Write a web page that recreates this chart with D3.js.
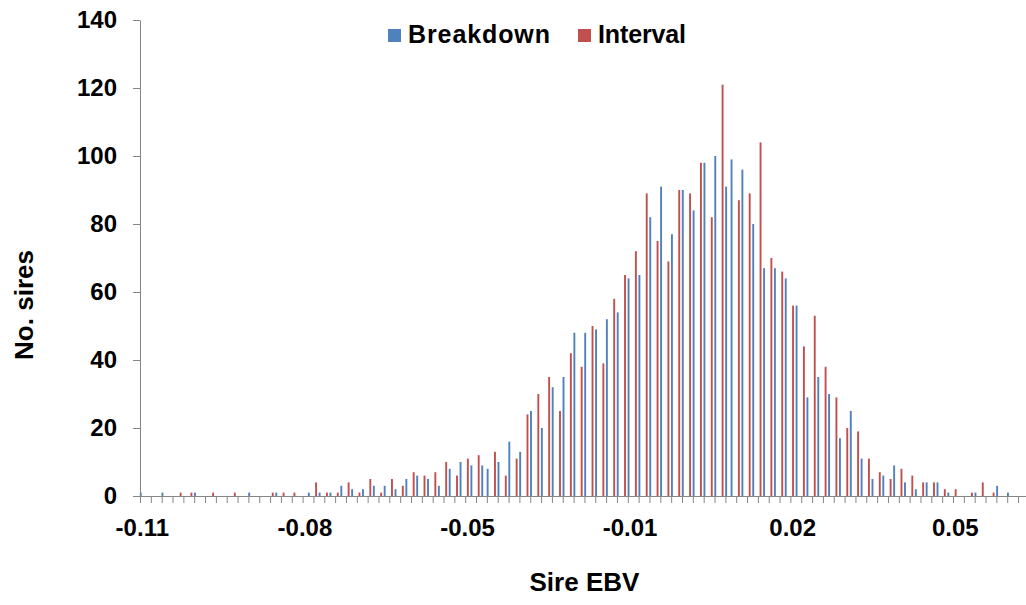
<!DOCTYPE html>
<html><head><meta charset="utf-8">
<script src="https://cdn.jsdelivr.net/npm/d3@7/dist/d3.min.js"></script>
<style>body{margin:0;background:#fff}svg{display:block}</style>
</head><body>
<svg id="chart" width="1026" height="605"></svg>
<script>
// ---- data ----
const seriesNames = ["Breakdown", "Interval"];
const seriesColors = ["#4F81BD", "#C0504D"];
const nCategories = 164;
const categories = d3.range(nCategories);
const breakdown = [
  1,0,0,0,1,0,0,0,0,0,
  1,0,0,0,0,0,0,0,0,0,
  1,0,0,0,0,1,0,0,0,0,
  0,1,0,1,0,1,0,3,0,2,
  0,2,0,3,0,3,0,2,0,5,
  0,6,0,5,0,3,0,8,0,10,
  0,9,0,9,8,0,10,0,16,0,
  13,0,25,0,20,0,32,0,35,0,
  48,0,48,0,49,0,52,0,54,0,
  64,0,65,0,82,0,91,0,77,0,
  90,0,84,0,98,0,100,0,91,99,
  0,96,0,80,0,67,0,67,0,64,
  0,56,0,29,0,35,0,30,0,17,
  0,25,0,11,0,5,0,6,0,9,
  0,4,0,2,0,4,0,4,0,1,
  0,0,0,0,1,0,0,0,3,0,
  1,0,0,0
];
const interval = [
  0,0,0,0,0,0,0,1,0,1,
  0,0,0,1,0,0,0,1,0,0,
  0,0,0,0,1,0,1,0,1,0,
  0,0,4,0,1,0,1,0,4,0,
  1,0,5,0,1,0,5,0,3,0,
  7,0,6,0,7,0,10,0,6,0,
  11,0,12,0,0,13,0,6,0,11,
  0,24,0,30,0,35,0,25,0,42,
  0,38,0,50,0,39,0,58,0,65,
  0,72,0,89,0,75,0,69,0,90,
  0,89,0,98,0,82,0,121,0,0,
  87,0,89,0,104,0,70,0,66,0,
  56,0,44,0,53,0,38,0,29,0,
  20,0,19,0,11,0,7,0,5,0,
  8,0,6,0,4,0,4,0,2,0,
  2,0,0,1,0,4,0,1,0,0,
  0,0,0,0
];
const xTickLabels = ["-0.11", "-0.08", "-0.05", "-0.01", "0.02", "0.05"];
const xLabelEvery = 30;
const yTicks = [0, 20, 40, 60, 80, 100, 120, 140];
const xTitle = "Sire EBV";
const yTitle = "No. sires";

// ---- layout ----
const svg = d3.select("#chart");
const plotLeft = 140, plotTop = 20, plotBottom = 496, catStep = 5.42;
const plotRight = plotLeft + nCategories * catStep;
const font = "'Liberation Sans', Arial, sans-serif";
const axisColor = "#868686";

const x = d3.scaleBand().domain(categories).range([plotLeft - 1, plotRight - 1])
  .paddingInner(0.3).paddingOuter(0.15);
const xs = d3.scaleBand().domain(seriesNames).range([0, x.bandwidth()]);
const xb = d3.scaleLinear().domain([0, nCategories]).range([plotLeft, plotRight]);
const y = d3.scaleLinear().domain([0, 140]).range([plotBottom, plotTop]);

const seriesData = [breakdown, interval];
seriesData.forEach((vals, si) => {
  svg.append("g").selectAll("rect")
    .data(categories.filter(c => vals[c] > 0))
    .join("rect")
    .attr("x", c => x(c) + xs(seriesNames[si]))
    .attr("width", xs.bandwidth())
    .attr("y", c => y(vals[c]))
    .attr("height", c => y(0) - y(vals[c]))
    .attr("fill", seriesColors[si]);
});

// y axis
const gy = svg.append("g").attr("transform", `translate(${plotLeft},0)`)
  .call(d3.axisLeft(y).tickValues(yTicks).tickSize(7).tickSizeOuter(0).tickPadding(16));
gy.select(".domain").attr("stroke", axisColor);
gy.selectAll(".tick line").attr("stroke", axisColor);
gy.selectAll("text").attr("font-family", font).attr("font-size", 24)
  .attr("font-weight", "bold").attr("fill", "#000");

// x axis marks (every 2 categories)
const gx = svg.append("g").attr("transform", `translate(0,${plotBottom})`)
  .call(d3.axisBottom(xb).tickValues(d3.range(0, nCategories + 1, 2)).tickSize(7).tickSizeOuter(0).tickFormat(""));
gx.select(".domain").attr("stroke", axisColor);
gx.selectAll(".tick line").attr("stroke", axisColor);

// x labels
const labelIdx = xTickLabels.map((_, i) => i * xLabelEvery);
const gxl = svg.append("g").attr("transform", `translate(0.6,${plotBottom})`)
  .call(d3.axisBottom(x).tickValues(labelIdx).tickSize(0).tickPadding(23)
    .tickFormat(d => xTickLabels[d / xLabelEvery]));
gxl.select(".domain").remove();
gxl.selectAll("text").attr("font-family", font).attr("font-size", 24)
  .attr("font-weight", "bold").attr("fill", "#000");

// titles
svg.append("text").attr("x", (plotLeft + plotRight) / 2).attr("y", 591)
  .attr("text-anchor", "middle").attr("font-family", font).attr("font-size", 26)
  .attr("font-weight", "bold").text(xTitle);
svg.append("text").attr("transform", "translate(33,305) rotate(-90)")
  .attr("text-anchor", "middle").attr("font-family", font).attr("font-size", 26)
  .attr("font-weight", "bold").text(yTitle);

// legend
const legendItems = [
  {name: seriesNames[0], color: seriesColors[0], x: 388, len: 142},
  {name: seriesNames[1], color: seriesColors[1], x: 578, len: 88}
];
const lg = svg.append("g");
legendItems.forEach(d => {
  lg.append("rect").attr("x", d.x).attr("y", 29).attr("width", 13).attr("height", 13).attr("fill", d.color);
  lg.append("text").attr("x", d.x + 20).attr("y", 43).attr("font-family", font)
    .attr("font-size", 25).attr("font-weight", "bold")
    .attr("textLength", d.len).attr("lengthAdjust", "spacing").text(d.name);
});
</script>
</body></html>
